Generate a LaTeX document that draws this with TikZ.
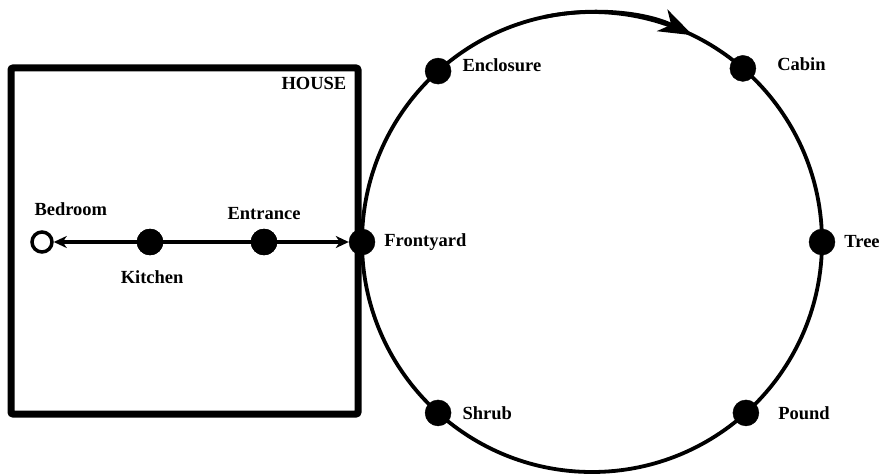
\documentclass[tikz,border=0pt]{standalone}
\usepackage{fontspec}
\setmainfont{Liberation Serif}
\usetikzlibrary{positioning, arrows.meta}

\begin{document}
\begin{tikzpicture}[x=1pt, y=1pt,
    dot/.style={circle, fill=black, draw=black, inner sep=0pt, minimum size=26pt},
    opendot/.style={circle, fill=white, draw=black, line width=3.5pt, inner sep=0pt, minimum size=20pt},
    lbl/.style={font=\fontsize{18.5}{22}\selectfont\bfseries, inner sep=1pt}]
  \useasboundingbox (0,0) rectangle (885,475);
  % house
  \node[draw, line width=7pt, rounded corners=2pt, minimum width=347pt, minimum height=346pt] (house) at (184.5,234) {};
  \node[lbl, anchor=north east] at ([shift={(-14,-12)}]house.north east) {HOUSE};
  % yard loop
  \coordinate (c) at (592,233);
  \draw[line width=3.8pt] (c) circle (230);
  \draw[line width=3.8pt, -{Stealth[length=34pt, width=24pt, inset=10pt]}] (c) ++(102:230) arc (102:64:230);
  \node[dot] (front) at ([shift={(180:230)}]c) {};
  \node[dot] (encl) at ([shift={(132:230)}]c) {};
  \node[dot] (cabin) at ([shift={(49:230)}]c) {};
  \node[dot] (tree) at ([shift={(0:230)}]c) {};
  \node[dot] (pound) at ([shift={(-48:230)}]c) {};
  \node[dot] (shrub) at ([shift={(-132:230)}]c) {};
  % rooms
  \node[opendot] (bed) at (42,233) {};
  \node[dot] (kitchen) at (150,233) {};
  \node[dot] (entr) at (264,233) {};
  \draw[line width=3.3pt, {Stealth[length=13pt, width=12pt, inset=4pt]}-{Stealth[length=13pt, width=12pt, inset=4pt]}] (bed) -- (front);
  \node[dot] at (kitchen) {};
  \node[dot] at (entr) {};
  % labels
  \node[lbl, above right=17pt and -17pt of bed] {Bedroom};
  \node[lbl, below left=18pt and -44pt of kitchen] {Kitchen};
  \node[lbl, above=8pt of entr] {Entrance};
  \node[lbl, right=8pt of front] {Frontyard};
  \node[lbl, right=10pt of encl, yshift=6pt] {Enclosure};
  \node[lbl, right=20pt of cabin, yshift=4pt] {Cabin};
  \node[lbl, right=8pt of tree] {Tree};
  \node[lbl, right=18pt of pound] {Pound};
  \node[lbl, right=10pt of shrub] {Shrub};
\end{tikzpicture}
\end{document}
